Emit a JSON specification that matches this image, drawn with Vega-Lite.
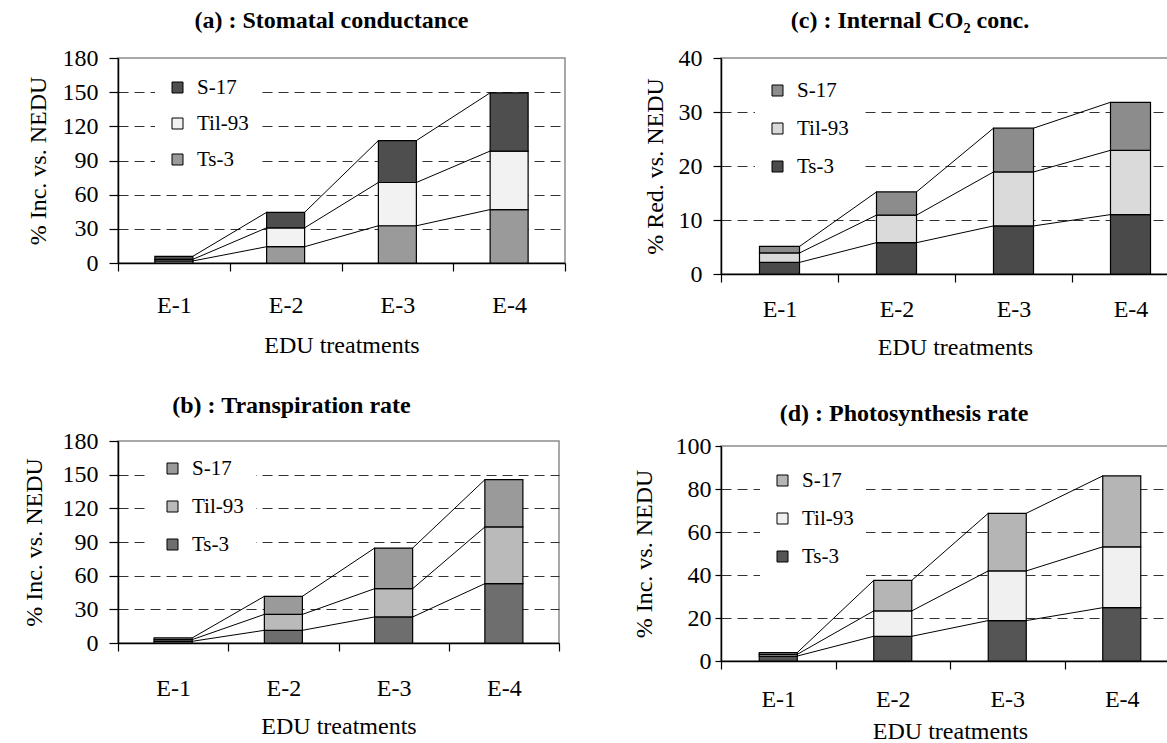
{
  "$schema": "https://vega.github.io/schema/vega-lite/v6.json",
  "padding": {"left": 21, "top": 8, "right": 0, "bottom": 0},
  "background": "white",
  "data": {"values": [
    {"p": "a", "cat": "E-1", "series": "Ts-3", "value": 1.8},
    {"p": "a", "cat": "E-1", "series": "Til-93", "value": 1.4},
    {"p": "a", "cat": "E-1", "series": "S-17", "value": 2.7},
    {"p": "a", "cat": "E-2", "series": "Ts-3", "value": 14.3},
    {"p": "a", "cat": "E-2", "series": "Til-93", "value": 16.6},
    {"p": "a", "cat": "E-2", "series": "S-17", "value": 13.6},
    {"p": "a", "cat": "E-3", "series": "Ts-3", "value": 32.7},
    {"p": "a", "cat": "E-3", "series": "Til-93", "value": 38.0},
    {"p": "a", "cat": "E-3", "series": "S-17", "value": 36.8},
    {"p": "a", "cat": "E-4", "series": "Ts-3", "value": 46.9},
    {"p": "a", "cat": "E-4", "series": "Til-93", "value": 51.4},
    {"p": "a", "cat": "E-4", "series": "S-17", "value": 51.1},
    {"p": "b", "cat": "E-1", "series": "Ts-3", "value": 1.5},
    {"p": "b", "cat": "E-1", "series": "Til-93", "value": 1.5},
    {"p": "b", "cat": "E-1", "series": "S-17", "value": 1.5},
    {"p": "b", "cat": "E-2", "series": "Ts-3", "value": 11.3},
    {"p": "b", "cat": "E-2", "series": "Til-93", "value": 14.2},
    {"p": "b", "cat": "E-2", "series": "S-17", "value": 16.1},
    {"p": "b", "cat": "E-3", "series": "Ts-3", "value": 23.2},
    {"p": "b", "cat": "E-3", "series": "Til-93", "value": 25.2},
    {"p": "b", "cat": "E-3", "series": "S-17", "value": 36.2},
    {"p": "b", "cat": "E-4", "series": "Ts-3", "value": 52.9},
    {"p": "b", "cat": "E-4", "series": "Til-93", "value": 50.5},
    {"p": "b", "cat": "E-4", "series": "S-17", "value": 42.1},
    {"p": "c", "cat": "E-1", "series": "Ts-3", "value": 2.15},
    {"p": "c", "cat": "E-1", "series": "Til-93", "value": 1.75},
    {"p": "c", "cat": "E-1", "series": "S-17", "value": 1.2},
    {"p": "c", "cat": "E-2", "series": "Ts-3", "value": 5.8},
    {"p": "c", "cat": "E-2", "series": "Til-93", "value": 5.1},
    {"p": "c", "cat": "E-2", "series": "S-17", "value": 4.3},
    {"p": "c", "cat": "E-3", "series": "Ts-3", "value": 8.9},
    {"p": "c", "cat": "E-3", "series": "Til-93", "value": 10.0},
    {"p": "c", "cat": "E-3", "series": "S-17", "value": 8.1},
    {"p": "c", "cat": "E-4", "series": "Ts-3", "value": 11.0},
    {"p": "c", "cat": "E-4", "series": "Til-93", "value": 11.9},
    {"p": "c", "cat": "E-4", "series": "S-17", "value": 8.9},
    {"p": "d", "cat": "E-1", "series": "Ts-3", "value": 2.3},
    {"p": "d", "cat": "E-1", "series": "Til-93", "value": 0.8},
    {"p": "d", "cat": "E-1", "series": "S-17", "value": 0.8},
    {"p": "d", "cat": "E-2", "series": "Ts-3", "value": 11.5},
    {"p": "d", "cat": "E-2", "series": "Til-93", "value": 11.8},
    {"p": "d", "cat": "E-2", "series": "S-17", "value": 14.2},
    {"p": "d", "cat": "E-3", "series": "Ts-3", "value": 18.8},
    {"p": "d", "cat": "E-3", "series": "Til-93", "value": 23.1},
    {"p": "d", "cat": "E-3", "series": "S-17", "value": 26.8},
    {"p": "d", "cat": "E-4", "series": "Ts-3", "value": 24.8},
    {"p": "d", "cat": "E-4", "series": "Til-93", "value": 28.3},
    {"p": "d", "cat": "E-4", "series": "S-17", "value": 33.0}
  ]},
  "spacing": 64,
  "resolve": {"scale": {"x": "independent", "y": "independent", "color": "independent"}, "legend": {"color": "independent"}, "axis": {"x": "independent", "y": "independent"}},
  "hconcat": [
    {
      "concat": [
        {
          "width": 447, "height": 205,
          "title": {"text": "(a) : Stomatal conductance", "dx": -10, "offset": 13},
          "transform": [
            {"filter": "datum.p == 'a'"},
            {"stack": "value", "groupby": ["cat"], "sort": [{"field": "series", "order": "descending"}], "as": ["v0", "v1"]},
            {"window": [{"op": "lead", "field": "v1", "as": "v1n"}, {"op": "lead", "field": "cat", "as": "catn"}], "groupby": ["series"], "sort": [{"field": "cat", "order": "ascending"}]}
          ],
          "encoding": {
            "x": {"field": "cat", "type": "nominal", "scale": {"paddingInner": 0, "paddingOuter": 0}, "axis": {"title": "EDU treatments", "labelPadding": 22, "titlePadding": 16}},
            "y": {"field": "v1", "type": "quantitative", "scale": {"domain": [0, 180], "nice": false}, "axis": {"title": "% Inc. vs. NEDU", "values": [0, 30, 60, 90, 120, 150, 180], "tickSize": 9, "labelPadding": 11, "titlePadding": 12, "gridOpacity": {"condition": {"test": "datum.value >= 180", "value": 0}, "value": 1}}}
          },
          "layer": [
            {"mark": {"type": "bar", "width": {"band": 0.34}, "stroke": "black", "strokeWidth": 1.2},
             "encoding": {"y2": {"field": "v0"},
               "color": {"field": "series", "type": "nominal", "scale": {"domain": ["S-17", "Til-93", "Ts-3"], "range": ["#4e4e4e", "#f2f2f2", "#9a9a9a"]},
                 "legend": {"title": null, "orient": "none", "legendX": 37, "legendY": 7, "rowPadding": 14}}}},
            {"transform": [{"filter": "datum.catn != null"}],
             "mark": {"type": "rule", "xOffset": 19, "x2Offset": -19, "color": "black", "strokeWidth": 1},
             "encoding": {"x2": {"field": "catn"}, "y2": {"field": "v1n"}}}
          ]
        },
        {
          "width": 441, "height": 202,
          "title": {"text": "(b) : Transpiration rate", "dx": -47, "offset": 11},
          "transform": [
            {"filter": "datum.p == 'b'"},
            {"stack": "value", "groupby": ["cat"], "sort": [{"field": "series", "order": "descending"}], "as": ["v0", "v1"]},
            {"window": [{"op": "lead", "field": "v1", "as": "v1n"}, {"op": "lead", "field": "cat", "as": "catn"}], "groupby": ["series"], "sort": [{"field": "cat", "order": "ascending"}]}
          ],
          "encoding": {
            "x": {"field": "cat", "type": "nominal", "scale": {"paddingInner": 0, "paddingOuter": 0}, "axis": {"title": "EDU treatments", "labelPadding": 25, "titlePadding": 14}},
            "y": {"field": "v1", "type": "quantitative", "scale": {"domain": [0, 180], "nice": false}, "axis": {"title": "% Inc. vs. NEDU", "values": [0, 30, 60, 90, 120, 150, 180], "tickSize": 9, "labelPadding": 11, "titlePadding": 16, "gridOpacity": {"condition": {"test": "datum.value >= 180", "value": 0}, "value": 1}}}
          },
          "layer": [
            {"mark": {"type": "bar", "width": {"band": 0.345}, "stroke": "black", "strokeWidth": 1.2},
             "encoding": {"y2": {"field": "v0"},
               "color": {"field": "series", "type": "nominal", "scale": {"domain": ["S-17", "Til-93", "Ts-3"], "range": ["#9a9a9a", "#bababa", "#6e6e6e"]},
                 "legend": {"title": null, "orient": "none", "legendX": 32, "legendY": 5, "rowPadding": 16}}}},
            {"transform": [{"filter": "datum.catn != null"}],
             "mark": {"type": "rule", "xOffset": 19, "x2Offset": -19, "color": "black", "strokeWidth": 1},
             "encoding": {"x2": {"field": "catn"}, "y2": {"field": "v1n"}}}
          ]
        }
      ],
      "columns": 1,
      "align": "none",
      "spacing": 35,
      "resolve": {"scale": {"x": "independent", "y": "independent", "color": "independent"}, "legend": {"color": "independent"}, "axis": {"x": "independent", "y": "independent"}}
    },
    {
      "concat": [
        {
          "width": 468, "height": 216,
          "title": {"text": "(c) : Internal CO₂ conc.", "dx": -45, "offset": 13},
          "transform": [
            {"filter": "datum.p == 'c'"},
            {"stack": "value", "groupby": ["cat"], "sort": [{"field": "series", "order": "descending"}], "as": ["v0", "v1"]},
            {"window": [{"op": "lead", "field": "v1", "as": "v1n"}, {"op": "lead", "field": "cat", "as": "catn"}], "groupby": ["series"], "sort": [{"field": "cat", "order": "ascending"}]}
          ],
          "encoding": {
            "x": {"field": "cat", "type": "nominal", "scale": {"paddingInner": 0, "paddingOuter": 0}, "axis": {"title": "EDU treatments", "labelPadding": 15, "titlePadding": 14}},
            "y": {"field": "v1", "type": "quantitative", "scale": {"domain": [0, 40], "nice": false}, "axis": {"title": "% Red. vs. NEDU", "values": [0, 10, 20, 30, 40], "tickSize": 8, "labelPadding": 11, "titlePadding": 11, "gridOpacity": {"condition": {"test": "datum.value >= 40", "value": 0}, "value": 1}}}
          },
          "layer": [
            {"mark": {"type": "bar", "width": {"band": 0.342}, "stroke": "black", "strokeWidth": 1.2},
             "encoding": {"y2": {"field": "v0"},
               "color": {"field": "series", "type": "nominal", "scale": {"domain": ["S-17", "Til-93", "Ts-3"], "range": ["#8c8c8c", "#dadada", "#4a4a4a"]},
                 "legend": {"title": null, "orient": "none", "legendX": 34, "legendY": 10, "rowPadding": 16}}}},
            {"transform": [{"filter": "datum.catn != null"}],
             "mark": {"type": "rule", "xOffset": 20, "x2Offset": -20, "color": "black", "strokeWidth": 1},
             "encoding": {"x2": {"field": "catn"}, "y2": {"field": "v1n"}}}
          ]
        },
        {
          "width": 458, "height": 215,
          "title": {"text": "(d) : Photosynthesis rate", "dx": -46, "offset": 8},
          "transform": [
            {"filter": "datum.p == 'd'"},
            {"stack": "value", "groupby": ["cat"], "sort": [{"field": "series", "order": "descending"}], "as": ["v0", "v1"]},
            {"window": [{"op": "lead", "field": "v1", "as": "v1n"}, {"op": "lead", "field": "cat", "as": "catn"}], "groupby": ["series"], "sort": [{"field": "cat", "order": "ascending"}]}
          ],
          "encoding": {
            "x": {"field": "cat", "type": "nominal", "scale": {"paddingInner": 0, "paddingOuter": 0}, "axis": {"title": "EDU treatments", "labelPadding": 18, "titlePadding": 8}},
            "y": {"field": "v1", "type": "quantitative", "scale": {"domain": [0, 100], "nice": false}, "axis": {"title": "% Inc. vs. NEDU", "values": [0, 20, 40, 60, 80, 100], "tickSize": 6, "labelPadding": 4, "titlePadding": 19, "gridOpacity": {"condition": {"test": "datum.value >= 100", "value": 0}, "value": 1}}}
          },
          "layer": [
            {"mark": {"type": "bar", "width": {"band": 0.332}, "stroke": "black", "strokeWidth": 1.2},
             "encoding": {"y2": {"field": "v0"},
               "color": {"field": "series", "type": "nominal", "scale": {"domain": ["S-17", "Til-93", "Ts-3"], "range": ["#b5b5b5", "#f0f0f0", "#555555"]},
                 "legend": {"title": null, "orient": "none", "legendX": 39, "legendY": 12, "rowPadding": 16}}}},
            {"transform": [{"filter": "datum.catn != null"}],
             "mark": {"type": "rule", "xOffset": 19, "x2Offset": -19, "color": "black", "strokeWidth": 1},
             "encoding": {"x2": {"field": "catn"}, "y2": {"field": "v1n"}}}
          ]
        }
      ],
      "columns": 1,
      "align": "none",
      "spacing": 41,
      "resolve": {"scale": {"x": "independent", "y": "independent", "color": "independent"}, "legend": {"color": "independent"}, "axis": {"x": "independent", "y": "independent"}}
    }
  ],
  "config": {
    "font": "Liberation Serif",
    "view": {"stroke": "#8c8c8c", "strokeWidth": 1.5},
    "axis": {"labelFont": "Liberation Serif", "titleFont": "Liberation Serif", "labelFontSize": 24, "titleFontSize": 24, "labelColor": "black", "titleColor": "black", "titleFontWeight": "normal", "domainColor": "black", "domainWidth": 1.5, "tickColor": "black", "tickWidth": 1.2},
    "axisX": {"labelAngle": 0, "tickBand": "extent", "tickSize": 8, "grid": false},
    "axisY": {"grid": true, "gridDash": [10, 6], "gridColor": "#333333", "gridWidth": 1},
    "title": {"font": "Liberation Serif", "fontSize": 24, "fontWeight": "bold", "color": "black", "anchor": "middle", "frame": "group"},
    "legend": {"symbolType": "square", "symbolSize": 121, "symbolStrokeColor": "black", "symbolStrokeWidth": 1, "labelFont": "Liberation Serif", "labelFontSize": 21, "labelColor": "black", "padding": 12, "fillColor": "white", "labelOffset": 9}
  }
}
